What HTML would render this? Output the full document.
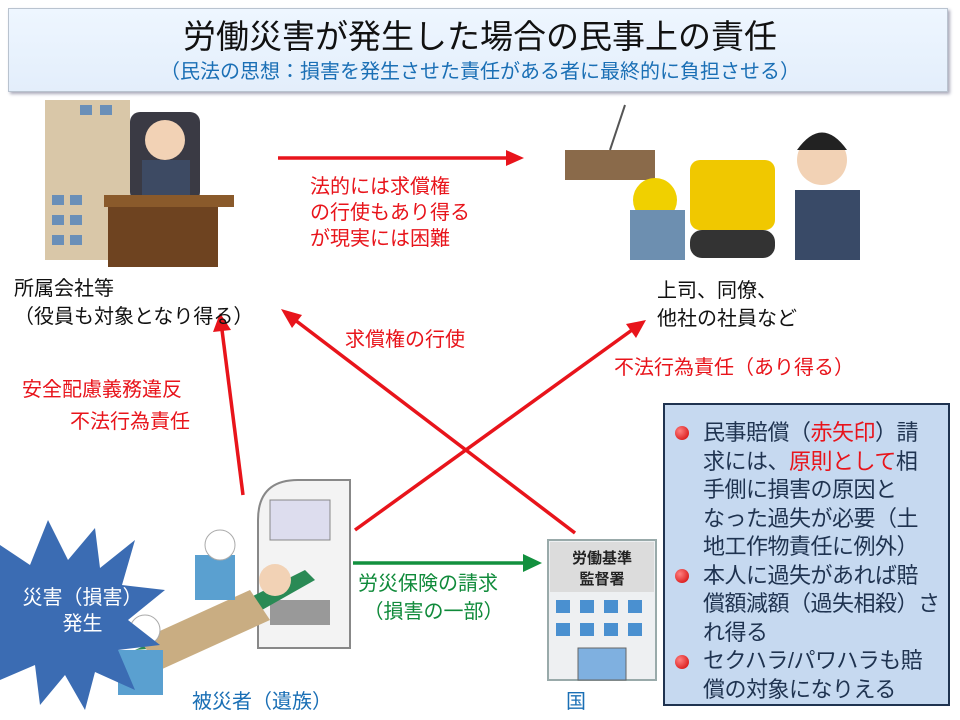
<!DOCTYPE html>
<html><head><meta charset="utf-8"><style>
body{margin:0;width:960px;height:720px;background:#fff;position:relative;overflow:hidden;font-family:"Liberation Sans","Noto Sans CJK JP",sans-serif}
.t{position:absolute;white-space:nowrap;font-size:20px;line-height:1}
.r{color:#e8141b}.k{color:#111}.b{color:#1a6fb5}.g{color:#0f8a3a}
.dot{position:absolute;left:675px;width:14px;height:14px;border-radius:50%;background:radial-gradient(circle at 35% 35%,#ff8080,#d00000)}
</style></head><body>
<div style="position:absolute;left:8px;top:8px;width:938px;height:82px;background:linear-gradient(#eef6ff,#e3eefb);border:1px solid #b9c3cf;box-shadow:2px 2px 3px #aab"></div>
<div class="t k" style="left:0;width:960px;text-align:center;top:20px;font-size:33px">労働災害が発生した場合の民事上の責任</div>
<div class="t b" style="left:0;width:960px;text-align:center;top:62px;font-size:20px">（民法の思想：損害を発生させた責任がある者に最終的に負担させる）</div>

<svg width="960" height="720" style="position:absolute;left:0;top:0">
<rect x="45" y="100" width="85" height="160" fill="#d9c7a8"/>
<g fill="#6a8fb8"><rect x="52" y="195" width="12" height="10"/><rect x="70" y="195" width="12" height="10"/><rect x="52" y="215" width="12" height="10"/><rect x="70" y="215" width="12" height="10"/><rect x="52" y="235" width="12" height="10"/><rect x="70" y="235" width="12" height="10"/><rect x="80" y="105" width="12" height="10"/><rect x="100" y="105" width="12" height="10"/></g>
<rect x="130" y="112" width="70" height="90" rx="10" fill="#3a3a44"/>
<circle cx="165" cy="140" r="20" fill="#f2d2b5"/>
<rect x="142" y="160" width="48" height="40" fill="#3d4a63"/>
<rect x="104" y="195" width="130" height="12" fill="#8a5a2b"/>
<rect x="108" y="207" width="110" height="60" fill="#6e4320"/>
<rect x="565" y="150" width="90" height="30" fill="#8a6a4a"/>
<line x1="625" y1="105" x2="610" y2="150" stroke="#555" stroke-width="2"/>
<rect x="690" y="160" width="85" height="70" rx="10" fill="#f0c800"/>
<rect x="690" y="230" width="85" height="28" rx="12" fill="#333"/>
<circle cx="655" cy="200" r="22" fill="#f0d000"/>
<rect x="630" y="210" width="55" height="50" fill="#6d8fb0"/>
<circle cx="822" cy="160" r="25" fill="#f2d2b5"/>
<path d="M797,150 q25,-35 50,0 z" fill="#222"/>
<rect x="795" y="190" width="65" height="70" fill="#394a67"/>
<g stroke="#e8141b" stroke-width="3.5" fill="#e8141b">
<line x1="278" y1="158" x2="508" y2="158"/><polygon points="524,158 506,150 506,166" stroke="none"/>
<line x1="243" y1="495" x2="222" y2="330"/><polygon points="220,313 213,332 231,330" stroke="none"/>
<line x1="575" y1="533" x2="295" y2="320"/><polygon points="281,309 292,328 302,315" stroke="none"/>
<line x1="355" y1="530" x2="632" y2="330"/><polygon points="646,320 626,324 636,338" stroke="none"/>
</g>
<g stroke="#12903e" stroke-width="3.5" fill="#12903e">
<line x1="353" y1="563" x2="525" y2="563"/><polygon points="542,563 523,554 523,572" stroke="none"/>
</g>
<path d="M258,648 V520 q0,-40 40,-40 H350 V648 z" fill="#f3f3f3" stroke="#888" stroke-width="2"/>
<rect x="270" y="500" width="60" height="40" fill="#dde" stroke="#888"/>
<rect x="270" y="600" width="60" height="25" fill="#999"/>
<path d="M135,650 L245,600 L305,570 L315,580 L200,645 Z" fill="#2a8a55"/>
<path d="M140,640 L250,590 L270,620 L160,670 Z" fill="#c9ad82"/>
<circle cx="275" cy="580" r="16" fill="#f2d2b5"/>
<rect x="195" y="555" width="40" height="45" fill="#5aa0d0"/>
<circle cx="220" cy="545" r="15" fill="#fff" stroke="#aaa"/>
<rect x="118" y="650" width="45" height="45" fill="#5aa0d0"/>
<circle cx="145" cy="630" r="15" fill="#fff" stroke="#aaa"/>
<polygon points="0,545 30,565 48,520 68,560 95,528 100,568 135,540 122,585 165,590 128,620 160,645 118,650 135,690 95,672 85,710 65,675 40,705 35,665 0,680" fill="#3b6cb3"/>
<rect x="548" y="540" width="108" height="140" fill="#eef0f2" stroke="#9aa" stroke-width="2"/>
<rect x="550" y="542" width="104" height="50" fill="#dcdcdc"/>
<g fill="#4a90d0"><rect x="556" y="600" width="14" height="13"/><rect x="580" y="600" width="14" height="13"/><rect x="604" y="600" width="14" height="13"/><rect x="628" y="600" width="14" height="13"/><rect x="556" y="623" width="14" height="13"/><rect x="580" y="623" width="14" height="13"/><rect x="604" y="623" width="14" height="13"/><rect x="628" y="623" width="14" height="13"/></g>
<rect x="578" y="648" width="48" height="32" fill="#7fb0e0" stroke="#666"/>
<text x="602" y="563" font-size="15" font-weight="bold" text-anchor="middle" fill="#222" font-family="Noto Sans CJK JP,sans-serif">労働基準</text>
<text x="602" y="584" font-size="15" font-weight="bold" text-anchor="middle" fill="#222" font-family="Noto Sans CJK JP,sans-serif">監督署</text>
</svg>

<div class="t r" style="left:310px;top:174px;line-height:26px">法的には求償権<br>の行使もあり得る<br>が現実には困難</div>
<div class="t k" style="left:14px;top:275px;line-height:28px">所属会社等<br>（役員も対象となり得る）</div>
<div class="t k" style="left:657px;top:277px;line-height:28px">上司、同僚、<br>他社の社員など</div>
<div class="t r" style="left:345px;top:330px">求償権の行使</div>
<div class="t r" style="left:614px;top:358px">不法行為責任（あり得る）</div>
<div class="t r" style="left:22px;top:380px">安全配慮義務違反</div>
<div class="t r" style="left:70px;top:412px">不法行為責任</div>
<div class="t" style="left:20px;top:585px;width:125px;text-align:center;color:#fff;line-height:26px">災害（損害）<br>発生</div>
<div class="t g" style="left:358px;top:570px;line-height:28px">労災保険の請求<br>&nbsp;（損害の一部）</div>
<div class="t b" style="left:192px;top:692px">被災者（遺族）</div>
<div class="t b" style="left:566px;top:692px">国</div>

<div style="position:absolute;left:663px;top:403px;width:287px;height:303px;background:#c6d9f0;border:2px solid #1f3350;box-sizing:border-box"></div>
<div class="dot" style="top:426px"></div>
<div class="dot" style="top:569px"></div>
<div class="dot" style="top:655px"></div>
<div style="position:absolute;left:703px;top:419px;font-size:22px;line-height:28.5px;color:#1f3350;white-space:nowrap;letter-spacing:-0.5px">
民事賠償（<span style="color:#e8141b">赤矢印</span>）請<br>求には、<span style="color:#e8141b">原則として</span>相<br>手側に損害の原因と<br>なった過失が必要（土<br>地工作物責任に例外）<br>本人に過失があれば賠<br>償額減額（過失相殺）さ<br>れ得る<br>セクハラ/パワハラも賠<br>償の対象になりえる
</div>
</body></html>
